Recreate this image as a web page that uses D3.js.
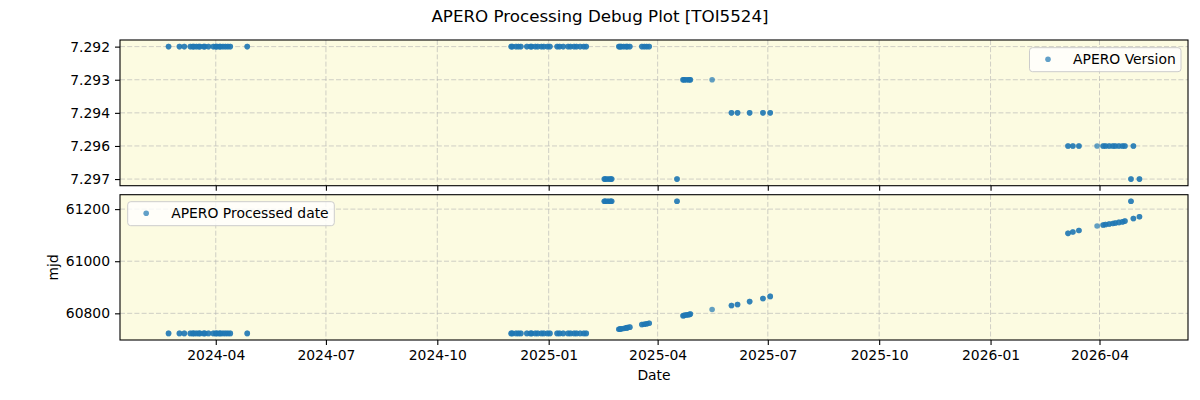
<!DOCTYPE html>
<html>
<head>
<meta charset="utf-8">
<script src="https://cdn.jsdelivr.net/npm/d3@7"></script>
<style>
  html, body { margin: 0; padding: 0; background: #ffffff; }
  svg { display: block; font-family: "DejaVu Sans", sans-serif; }
</style>
</head>
<body>
<svg id="chart" width="1200" height="400"></svg>
<script>
// ---------------- data ----------------
const title = "APERO Processing Debug Plot [TOI5524]";
const versionCategories = ["7.292", "7.293", "7.294", "7.296", "7.297"];
const mjdTicks = [60800, 61000, 61200];

const obsDates = [
  // early 2024 (v7.292, reprocessed)
  "2024-02-22","2024-03-02","2024-03-06","2024-03-11","2024-03-13","2024-03-14","2024-03-16",
  "2024-03-18","2024-03-19","2024-03-22","2024-03-23","2024-03-26","2024-03-30","2024-04-01",
  "2024-04-02","2024-04-04","2024-04-05","2024-04-07","2024-04-09","2024-04-11","2024-04-13",
  "2024-04-27",
  // winter 2024/25 (v7.292, reprocessed)
  "2024-12-01","2024-12-02","2024-12-05","2024-12-07","2024-12-09","2024-12-14","2024-12-17",
  "2024-12-18","2024-12-21","2024-12-23","2024-12-26","2024-12-28","2024-12-31","2025-01-02",
  "2025-01-08","2025-01-10","2025-01-13","2025-01-17","2025-01-19","2025-01-22","2025-01-24",
  "2025-01-27","2025-01-30","2025-02-01",
  // Feb 2025 (v7.297)
  "2025-02-16","2025-02-17","2025-02-19","2025-02-21","2025-02-22",
  // Mar 2025 (v7.292)
  "2025-02-28","2025-03-01","2025-03-02","2025-03-04","2025-03-06","2025-03-07","2025-03-09",
  "2025-03-19","2025-03-21","2025-03-23","2025-03-25",
  // Apr 2025
  "2025-04-17",
  "2025-04-22","2025-04-23","2025-04-25","2025-04-27","2025-04-28",
  "2025-05-16",
  // Jun-Jul 2025 (v7.294)
  "2025-06-01","2025-06-06","2025-06-16","2025-06-27","2025-07-03",
  // spring 2026 (v7.296 / v7.297)
  "2026-03-06","2026-03-10","2026-03-15","2026-03-30","2026-04-04","2026-04-06","2026-04-09",
  "2026-04-12","2026-04-14","2026-04-17","2026-04-20","2026-04-22","2026-04-29",
  "2026-04-27","2026-05-04"
];

const versions = [
  ...Array(22).fill("7.292"),
  ...Array(24).fill("7.292"),
  ...Array(5).fill("7.297"),
  ...Array(11).fill("7.292"),
  "7.297",
  ...Array(5).fill("7.293"),
  "7.293",
  ...Array(5).fill("7.294"),
  ...Array(13).fill("7.296"),
  "7.297","7.297"
];

const processedMjd = [
  ...Array(22).fill(60723),
  ...Array(24).fill(60723),
  ...Array(5).fill(61230),
  60739,60740,60741,60742,60744,60745,60747,
  60757,60758,60760,60762,
  61230,
  60791,60792,60794,60795,60797,
  60815,
  60830,60834,60845,60857,60865,
  61107,61112,61118,61135,61139,61141,61143,61145,61147,61149,61151,61154,61164,
  61230,61171
];

// exposures per night (overlapping markers)
const exposures = obsDates.map(d => (d === "2025-05-16" || d === "2026-03-30") ? 1 : 2);

// ---------------- layout ----------------
const svg = d3.select("#chart");
const L = 120, R = 1188;
const top1 = 40, bot1 = 185.7;
const top2 = 194.7, bot2 = 340;
const bg = "#fcfbe1";
const col = "#1f77b4";
const fs = "13.9px";

const parse = d3.utcParse("%Y-%m-%d");
const points = [];
obsDates.forEach((d, i) => {
  for (let k = 0; k < exposures[i]; k++) {
    points.push({ date: parse(d), version: versions[i], mjd: processedMjd[i] });
  }
});

// x scale with matplotlib-like 5% margins
const xExt = d3.extent(points, p => p.date.getTime());
const xPad = (xExt[1] - xExt[0]) * 0.05;
const x = d3.scaleUtc().domain([new Date(xExt[0] - xPad), new Date(xExt[1] + xPad)]).range([L, R]);
const xTicks = x.ticks(d3.utcMonth.every(3));

// top y: categorical index
const yTop = d3.scaleLinear().domain([-0.2, versionCategories.length - 1 + 0.2]).range([top1, bot1]);
const vIndex = v => versionCategories.indexOf(v);

// bottom y
const mExt = d3.extent(points, p => p.mjd);
const mPad = (mExt[1] - mExt[0]) * 0.05;
const yBot = d3.scaleLinear().domain([mExt[0] - mPad, mExt[1] + mPad]).range([bot2, top2]);

function panel(yt, yb, gridYs) {
  const g = svg.append("g");
  g.append("rect").attr("x", L).attr("y", yt).attr("width", R - L).attr("height", yb - yt).attr("fill", bg);
  // vertical grid
  g.selectAll(null).data(xTicks).enter().append("line")
    .attr("x1", d => x(d)).attr("x2", d => x(d)).attr("y1", yt).attr("y2", yb)
    .attr("stroke", "#b0b0b0").attr("stroke-opacity", 0.6).attr("stroke-width", 1)
    .attr("stroke-dasharray", "5,2.2");
  // horizontal grid
  g.selectAll(null).data(gridYs).enter().append("line")
    .attr("x1", L).attr("x2", R).attr("y1", d => d).attr("y2", d => d)
    .attr("stroke", "#b0b0b0").attr("stroke-opacity", 0.6).attr("stroke-width", 1)
    .attr("stroke-dasharray", "5,2.2");
  return g;
}

// ---------- top panel ----------
const g1 = panel(top1, bot1, versionCategories.map((v, i) => yTop(i)));
g1.selectAll("circle").data(points).enter().append("circle")
  .attr("cx", d => x(d.date)).attr("cy", d => yTop(vIndex(d.version)))
  .attr("r", 2.8).attr("fill", col).attr("fill-opacity", 0.7);

// ---------- bottom panel ----------
const g2 = panel(top2, bot2, mjdTicks.map(t => yBot(t)));
g2.selectAll("circle").data(points).enter().append("circle")
  .attr("cx", d => x(d.date)).attr("cy", d => yBot(d.mjd))
  .attr("r", 2.8).attr("fill", col).attr("fill-opacity", 0.7);

// spines
[[top1, bot1], [top2, bot2]].forEach(([a, b]) => {
  svg.append("rect").attr("x", L).attr("y", a).attr("width", R - L).attr("height", b - a)
    .attr("fill", "none").attr("stroke", "#000").attr("stroke-width", 1.1);
});

// axes
function styleAxis(sel) {
  sel.select(".domain").remove();
  sel.selectAll(".tick line").attr("stroke", "#000").attr("stroke-width", 1.1);
  sel.selectAll(".tick text").attr("fill", "#000").style("font-size", fs).style("font-family", "DejaVu Sans");
}
svg.append("g").attr("transform", `translate(0,${bot1})`)
  .call(d3.axisBottom(x).tickValues(xTicks).tickSize(5).tickFormat(""))
  .call(styleAxis);
svg.append("g").attr("transform", `translate(0,${bot2})`)
  .call(d3.axisBottom(x).tickValues(xTicks).tickSize(5).tickPadding(5).tickFormat(d3.utcFormat("%Y-%m")))
  .call(styleAxis);
svg.append("g").attr("transform", `translate(${L},0)`)
  .call(d3.axisLeft(yTop).tickValues(versionCategories.map((v, i) => i)).tickSize(5).tickPadding(5)
    .tickFormat(i => versionCategories[i]))
  .call(styleAxis);
svg.append("g").attr("transform", `translate(${L},0)`)
  .call(d3.axisLeft(yBot).tickValues(mjdTicks).tickSize(5).tickPadding(5).tickFormat(d3.format("d")))
  .call(styleAxis);

// labels
svg.append("text").attr("x", 600).attr("y", 22).attr("text-anchor", "middle")
  .style("font-size", "16.7px").text(title);
svg.append("text").attr("x", (L + R) / 2).attr("y", 380).attr("text-anchor", "middle")
  .style("font-size", fs).text("Date");
svg.append("text").attr("transform", `translate(58,${(top2 + bot2) / 2}) rotate(-90)`)
  .attr("text-anchor", "middle").style("font-size", fs).text("mjd");

// legends
function legend(x0, y0, w, label) {
  const g = svg.append("g");
  g.append("rect").attr("x", x0).attr("y", y0).attr("width", w).attr("height", 24).attr("rx", 3)
    .attr("fill", "#fff").attr("fill-opacity", 0.8).attr("stroke", "#cccccc").attr("stroke-width", 1);
  g.append("circle").attr("cx", x0 + 18.5).attr("cy", y0 + 11.5).attr("r", 2.8)
    .attr("fill", col).attr("fill-opacity", 0.7);
  g.append("text").attr("x", x0 + 43.5).attr("y", y0 + 16.5).style("font-size", fs).text(label);
}
legend(1029.5, 47.7, 151.5, "APERO Version");
legend(127.7, 201.7, 206.6, "APERO Processed date");
</script>
</body>
</html>
